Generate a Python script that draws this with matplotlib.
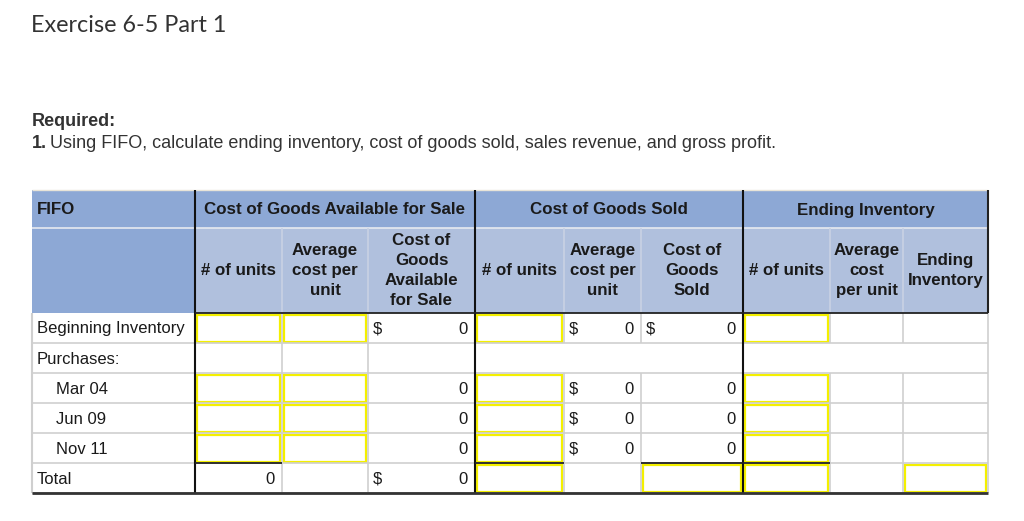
import matplotlib.pyplot as plt
from matplotlib.patches import Rectangle

# ---- data ----
title = "Exercise 6-5 Part 1"
required_label = "Required:"
question_num = "1."
question_text = "Using FIFO, calculate ending inventory, cost of goods sold, sales revenue, and gross profit."

corner_label = "FIFO"
groups = ["Cost of Goods Available for Sale", "Cost of Goods Sold", "Ending Inventory"]
sub_headers = [
    "# of units", "Average\ncost per\nunit", "Cost of\nGoods\nAvailable\nfor Sale",
    "# of units", "Average\ncost per\nunit", "Cost of\nGoods\nSold",
    "# of units", "Average\ncost\nper unit", "Ending\nInventory",
]
row_labels = ["Beginning Inventory", "Purchases:", "Mar 04", "Jun 09", "Nov 11", "Total"]
row_indent = [False, False, True, True, True, False]

# cell values per row: (dollar sign, value) for each of the 9 data columns, None = empty
cells = [
    [None, None, ("$", "0"), None, ("$", "0"), ("$", "0"), None, None, None],
    [None] * 9,
    [None, None, ("", "0"), None, ("$", "0"), ("", "0"), None, None, None],
    [None, None, ("", "0"), None, ("$", "0"), ("", "0"), None, None, None],
    [None, None, ("", "0"), None, ("$", "0"), ("", "0"), None, None, None],
    [("", "0"), None, ("$", "0"), None, None, None, None, None, None],
]
# yellow input boxes (row index, column index)
inputs = [(r, c) for r in (0, 2, 3, 4) for c in (0, 1, 3, 6)] + [(5, 3), (5, 5), (5, 6), (5, 8)]

# ---- layout (pixels) ----
col_edges = [32, 195, 282, 368, 475, 564, 641, 743, 830, 903, 988]
row_edges = [190, 228, 313, 343, 373, 403, 433, 463, 493]

DARK_BLUE = "#8DA8D5"
LIGHT_BLUE = "#B0C0DD"
GRID = "#CFCFCF"
YELLOW = "#F4F000"
TEXT = "#1a1a1a"
FONT = "Liberation Sans"
BODY_FS = 12
HEAD_FS = 12.2

fig = plt.figure(figsize=(10.24, 5.21), dpi=100)
ax = fig.add_axes([0, 0, 1, 1])
ax.set_xlim(0, 1024)
ax.set_ylim(521, 0)
ax.axis("off")

# titles
ax.text(31, 25, title, fontsize=16.8, family="Lato", color="#333333", va="center", ha="left")
ax.text(32, 122, required_label, fontsize=13, family=FONT, weight="bold", color="#333333", va="center")
ax.text(32, 143, question_num, fontsize=13, family=FONT, weight="bold", color="#333333", va="center")
ax.text(50, 143, question_text, fontsize=13, family=FONT, color="#333333", va="center")


def rect(x0, y0, x1, y1, **kw):
    ax.add_patch(Rectangle((x0, y0), x1 - x0, y1 - y0, **kw))


def hline(y, x0, x1, color, lw):
    ax.plot([x0, x1], [y, y], color=color, lw=lw, solid_capstyle="butt")


def vline(x, y0, y1, color, lw):
    ax.plot([x, x], [y0, y1], color=color, lw=lw, solid_capstyle="butt")


left, right = col_edges[0], col_edges[-1]
h0, h1, h2 = row_edges[0], row_edges[1], row_edges[2]

# header backgrounds
rect(left, h0, right, h1, facecolor=DARK_BLUE, edgecolor="none")
rect(left, h1, col_edges[1], h2, facecolor=DARK_BLUE, edgecolor="none")
rect(col_edges[1], h1, right, h2, facecolor=LIGHT_BLUE, edgecolor="none")
hline(h0, left, right, "#E8E4D8", 1)
hline(h1, left, right, "#E6E9F0", 1.2)
for x in col_edges[2:-1]:
    if x not in (475, 743):
        vline(x, h1, h2, "#C9D2E4", 1.2)

ax.text(left + 5, (h0 + h1) / 2 + 1, corner_label, fontsize=HEAD_FS, family=FONT, weight="bold",
        color=TEXT, va="center")
for g, name in enumerate(groups):
    xa, xb = col_edges[1 + 3 * g], col_edges[4 + 3 * g]
    ax.text((xa + xb) / 2, (h0 + h1) / 2 + 1, name, fontsize=HEAD_FS, family=FONT, weight="bold",
            color=TEXT, ha="center", va="center")
for c, name in enumerate(sub_headers):
    xa, xb = col_edges[c + 1], col_edges[c + 2]
    ax.text((xa + xb) / 2, (h1 + h2) / 2, name, fontsize=HEAD_FS, family=FONT, weight="bold",
            color=TEXT, ha="center", va="center", linespacing=1.4)

# body grid
for r in range(len(row_labels)):
    ya, yb = row_edges[r + 2], row_edges[r + 3]
    hline(yb, left, right, GRID, 1.2)
    for x in col_edges[2:]:
        if x in (475, 743):
            continue
        if row_labels[r] == "Purchases:" and 475 < x < right:
            continue
        vline(x, ya, yb, GRID, 1.2)
vline(left, h2, row_edges[-1], GRID, 1.5)

# row labels and values
for r, label in enumerate(row_labels):
    ya, yb = row_edges[r + 2], row_edges[r + 3]
    ym = (ya + yb) / 2 + 1
    ax.text(left + (24 if row_indent[r] else 5), ym, label, fontsize=BODY_FS, family=FONT,
            color=TEXT, va="center")
    for c, val in enumerate(cells[r]):
        if val is None:
            continue
        xa, xb = col_edges[c + 1], col_edges[c + 2]
        sign, num = val
        if sign:
            ax.text(xa + 5, ym, sign, fontsize=BODY_FS, family=FONT, color=TEXT, va="center")
        ax.text(xb - 7, ym, num, fontsize=BODY_FS, family=FONT, color=TEXT, va="center", ha="right")

# yellow input boxes
for r, c in inputs:
    xa, xb = col_edges[c + 1], col_edges[c + 2]
    ya, yb = row_edges[r + 2], row_edges[r + 3]
    rect(xa + 2, ya + 1.5, xb - 2, yb - 1.5, facecolor="white", edgecolor=YELLOW, lw=1.6)

# dark separators
for x in (195, 475, 743):
    vline(x, h0, row_edges[-1], "#111111", 1.5)
vline(right, h0, h2, "#222222", 1.5)
hline(h2, col_edges[1], right, "#222222", 1.3)
for c in (0, 3, 5, 6):
    hline(row_edges[-2], col_edges[c + 1], col_edges[c + 2], "#222222", 1.3)
hline(row_edges[-1], left, right, "#333333", 2)

fig.savefig("out.png", dpi=100)
